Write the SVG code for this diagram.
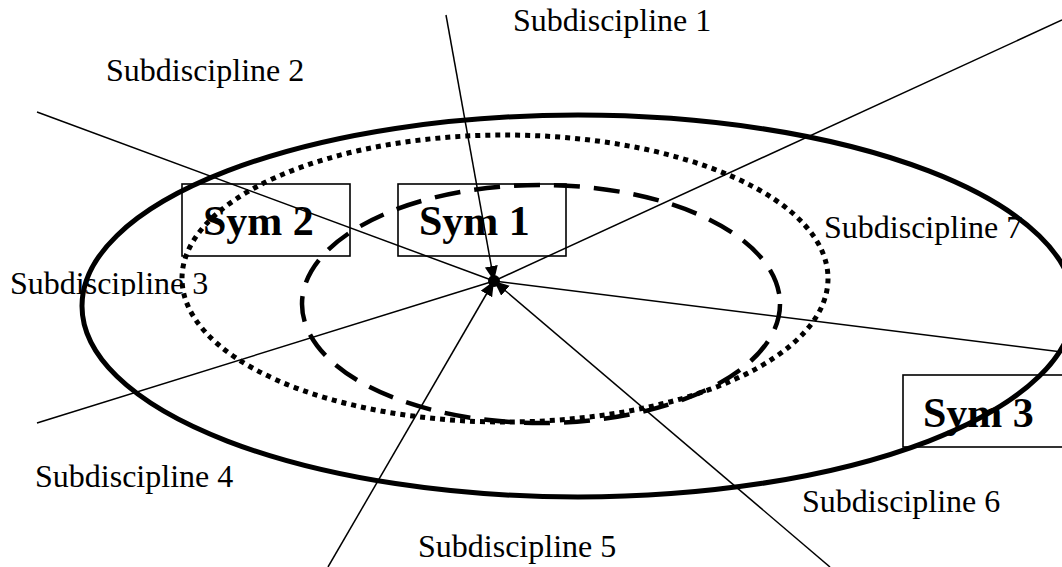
<svg xmlns="http://www.w3.org/2000/svg" width="1062" height="567" viewBox="0 0 1062 567">
  <style>
    .thin { stroke:#000; stroke-width:1.5; fill:none; }
    .arrow { marker-end:url(#arr); }
    .box { fill:none; stroke:#000; stroke-width:1.6; }
    .lbl { font-family:"Liberation Serif","Times New Roman",serif; font-size:32px; fill:#000; }
    .sym { font-family:"Liberation Serif","Times New Roman",serif; font-weight:bold; font-size:42px; fill:#000; }
    .outer { fill:none; stroke:#000; stroke-width:5; }
    .dotted { fill:none; stroke:#000; stroke-width:5; stroke-dasharray:5 5; }
    .dashed { fill:none; stroke:#000; stroke-width:4.5; stroke-dasharray:26 14; }
  </style>
  <defs>
    <marker id="arr" markerUnits="userSpaceOnUse" markerWidth="18" markerHeight="16" refX="15" refY="6.5" orient="auto">
      <path d="M0,0 L15,6.5 L0,13 z" fill="#000"/>
    </marker>
    <clipPath id="clip3"><rect x="0" y="240" width="260" height="56"/></clipPath>
  </defs>
  <rect width="1062" height="567" fill="#fff"/>

  <g id="label-sub1"><text class="lbl" x="513" y="31">Subdiscipline 1</text></g>
  <g id="label-sub2"><text class="lbl" x="106" y="81">Subdiscipline 2</text></g>
  <g id="label-sub3"><text class="lbl" x="10" y="294" clip-path="url(#clip3)">Subdiscipline 3</text></g>
  <g id="label-sub4"><text class="lbl" x="35" y="487">Subdiscipline 4</text></g>
  <g id="label-sub5"><text class="lbl" x="418" y="557">Subdiscipline 5</text></g>
  <g id="label-sub6"><text class="lbl" x="802" y="512">Subdiscipline 6</text></g>
  <g id="label-sub7"><text class="lbl" x="824" y="238">Subdiscipline 7</text></g>

  <g id="sym2"><rect class="box" x="182" y="184" width="168" height="72"/><text class="sym" x="203" y="235">Sym 2</text></g>
  <g id="sym1"><rect class="box" x="398" y="184" width="168" height="72"/><text class="sym" x="419" y="235">Sym 1</text></g>
  <g id="sym3"><rect class="box" x="903" y="375" width="168" height="72"/><text class="sym" x="923" y="427">Sym 3</text></g>

  <g id="ellipse-outer"><ellipse class="outer" cx="578" cy="306" rx="496" ry="191"/></g>
  <g id="ellipse-dotted"><ellipse class="dotted" cx="505" cy="278.5" rx="323" ry="143.5"/></g>
  <g id="ellipse-dashed"><ellipse class="dashed" cx="541" cy="304" rx="239" ry="119"/></g>

  <g id="connectors">
    <line class="thin arrow" x1="446" y1="15" x2="494" y2="281"/>
    <line class="thin" x1="37" y1="112" x2="494" y2="281"/>
    <line class="thin" x1="1062" y1="20" x2="494" y2="281"/>
    <line class="thin" x1="37" y1="423" x2="494" y2="281"/>
    <line class="thin" x1="1062" y1="352" x2="494" y2="281"/>
    <line class="thin arrow" x1="328" y1="567" x2="494" y2="281"/>
    <line class="thin arrow" x1="830" y1="567" x2="494" y2="281"/>
  </g>
  <g id="center"><circle cx="494" cy="281" r="6" fill="#000"/></g>
</svg>
